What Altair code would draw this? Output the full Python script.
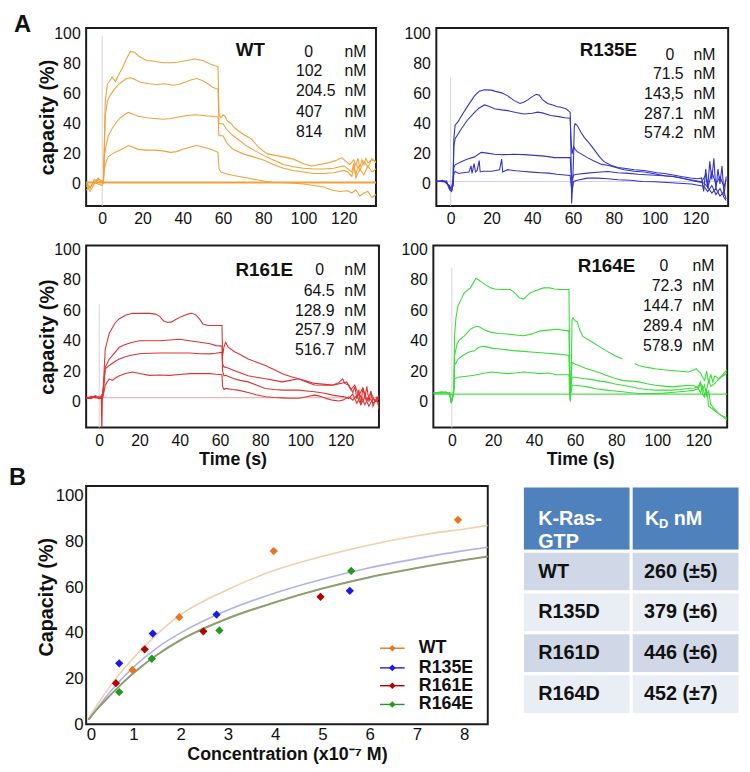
import altair as alt
import pandas as pd

FONT = "Liberation Sans"

# ---------------- Panel A: sensorgrams (time s, capacity %) ----------------
WT_LABELS = ["0", "102", "204.5", "407", "814"]
WT_814 = [(-8,-1),(-6,-5),(-4,0),(-2,3),(0,2),(0.6,0),(1,25),(1.5,55),(2.5,66),(4,69),(5,71),(6.5,68),(8,72),(10,77),(12,83),(14,88),(16,87.5),(18,85),(22,82),(26,81.5),(30,80.5),(34,80.5),(38,81),(42,82),(46,83),(50,82),(53,80),(56,78.5),(57.5,78),(58,46),(59,44),(60,46),(61,45),(62,42),(64,40),(66,37),(70,33),(74,30),(78,24),(82,20),(86,19),(90,18),(95,16.5),(100,13.5),(104,12),(108,13),(112,14),(116,15.5),(119,17.5),(121,15),(123,13),(125,16),(126,12),(127,17),(128,11),(129,16),(130,13),(131,17),(132,14),(134,16),(136,15)]
WT_407 = [(-8,0),(-6,-3),(-4,3),(-2,2),(0,1),(0.6,2),(1,20),(1.5,45),(2.5,55),(4,59),(6,63),(8,66),(10,68),(12,70),(14,70.5),(16,69.5),(19,67.5),(23,66.5),(27,66),(31,66.5),(35,65.5),(38,66),(41,67.5),(44,69),(47,70),(50,68.5),(53,66),(55,64),(57.5,63),(58,40),(60,40),(62,36),(65,32),(68,29),(72,25),(76,22),(80,19),(85,16),(90,13),(95,11.5),(100,10.5),(105,10),(110,10),(115,10.5),(118,11.5),(120,12),(122,10),(124,8),(125,14),(126,6),(127,12),(128,9),(130,15),(132,11),(134,17),(136,14)]
WT_204 = [(-8,1),(-6,-2),(-4,1),(-2,4),(0,1),(0.6,3),(1,18),(2,26),(3,32),(5,37),(7,41),(9,44),(11,46),(13,47.5),(15,46.5),(18,45),(22,44),(26,43.5),(30,43),(34,43.5),(38,44.5),(42,45.5),(46,46),(50,45.5),(54,45),(57.5,44.5),(58,32),(60,32),(62,27),(65,23),(70,20),(75,18),(80,16),(85,13),(90,10.5),(95,9),(100,8),(105,7),(110,7),(115,7.5),(120,9),(122,8),(124,5),(125,12),(126,4),(128,10),(130,6),(132,12),(134,8),(136,10)]
WT_102 = [(-8,-4),(-6,-2),(-4,1),(-2,0),(0,-1),(0.6,2),(1,10),(2,15),(3,18),(5,20),(8,22),(11,24),(13,25.5),(15,24.5),(18,23),(22,22.5),(26,22.5),(30,22),(34,21),(37,21.5),(40,23),(44,24.5),(47,25.5),(50,24.5),(54,23),(57.5,21),(58,10),(59,8),(61,7),(64,6),(68,5),(72,4),(76,3),(80,2),(85,1),(90,1),(95,0.5),(100,0),(105,-1),(110,-2),(114,-4),(118,-5),(122,-4.5),(124,-6),(126,-4),(128,-8),(130,-6),(132,-5),(134,-9),(136,-7)]
WT_0 = 1.0

R135_LABELS = ["0", "71.5", "143,5", "287.1", "574.2"]
R135_574 = [(-7,1.5),(-4,2.5),(-2,1),(-0.5,-3),(0.5,-2),(1.2,3),(1.6,30),(2.2,39),(3.5,41),(5.2,45),(8,51),(11.7,58.5),(14,61.5),(16.6,62.5),(20,62.3),(22,61.5),(25,60.5),(28,58.5),(31,55.5),(34,53.5),(36,54.5),(38,56),(40,58),(42,59.5),(43.5,59),(45,56),(47.5,53.5),(50,52.5),(52,51.5),(54,51),(56.5,50),(58.6,47.5),(59,20),(59.3,-13),(59.8,0),(60.3,20),(60.6,38),(61,40),(62,39),(64,34),(65.5,31),(68,27),(70,23.5),(73,18),(75,15),(78.5,12.5),(82,11),(85,10.5),(90,9.5),(95,9),(101,7.5),(105,7),(109,6),(113,5),(117.6,4),(121,3.5),(123,4),(124,-5),(125,10),(126,-2),(127,15),(128,3),(129,17),(130,-4),(131,10),(132,0),(133,12),(134,-8),(135,5)]
R135_287 = [(-7,2),(-4,1.5),(-2,2),(-0.5,-4),(0.5,-5),(1.2,0),(1.6,25),(2.2,30),(5.2,36.5),(8,42),(11.7,47.5),(14,50.5),(16.6,52.5),(19,51.5),(21.5,50),(25,49.2),(28,48.7),(32,47.5),(36,46.5),(40,47),(42.7,47.7),(45,47.2),(49,45.5),(53,44.7),(56,44),(58.6,43.7),(59,30),(59.5,20),(60.3,24.7),(61,23),(62,21.5),(64,20),(67,17.5),(70,15.5),(74,13),(77,12.5),(81,11),(85,9.5),(90,8.5),(95,8),(101,6.5),(105,5.5),(109,5),(113,4),(117.6,2.8),(121,2),(123,1.5),(125,6),(126,-3),(128,8),(130,0),(132,5),(134,-2),(135,3)]
R135_143 = [(-7,1.5),(-3,2),(-0.5,-2),(0.5,-4),(1.2,0),(1.6,11),(2.2,12.7),(5.2,14.8),(8,16.5),(11.7,18),(15,21),(18,20.5),(21.5,19.7),(26,19.5),(31,19.7),(36,19.5),(41,19),(46,18.5),(51,17.5),(55,17.5),(58.6,17.5),(59,8),(59.5,3),(60.3,6),(62,6.5),(67,7.2),(72,7.8),(77,8.3),(82,7.5),(86,7.2),(92,6.5),(98,6),(104,5.5),(109,5),(113,4),(117.6,2.5),(121,1.5),(124,0.7),(126,-2),(128,-6),(130,-3),(132,-8),(134,-5),(135,-10)]
R135_71 = [(-7,2),(-3,1.5),(-0.5,-1),(0.5,-4.5),(1.2,-1),(1.6,7),(2.2,8.3),(4,7),(6,7.5),(9,8),(10,12),(10.5,7),(11.5,13.5),(12.2,8),(13,9),(14,15.5),(14.5,8),(16,8.5),(20,8.5),(24,9.4),(25,16.5),(25.5,8),(28,9.5),(32,8.8),(36,8.3),(40,7.9),(44,7.5),(48,7.2),(52,6.5),(56,6),(58.6,5.7),(59,0),(59.5,-5),(60.3,1.7),(62,2.5),(67,3.9),(72,3.9),(77,3.5),(82,2.8),(88,2.5),(94,1.7),(100,1.5),(106,1),(112,0.5),(118,0),(122,-1),(124,-1.5),(126,-5),(128,-1),(130,-7),(132,-3),(134,-9),(135,-11)]
R135_0 = 1.7

R161_LABELS = ["0", "64.5", "128.9", "257.9", "516.7"]
R161_516 = [(-6.5,2),(-4,3),(-2,3.5),(0,2),(1,4),(1.3,-20),(1.6,5),(2,10),(3,34.6),(5,45),(8,52),(10,54.5),(13,56.7),(16.5,58),(20,58),(25,58),(28,57.5),(30,56),(32,53),(34,52),(36,52.4),(38,54),(41,56),(44,57.5),(46,58),(48,57),(50,54),(51.5,51),(54,50),(58,50),(61,50),(61.3,30),(62,36),(62.8,39),(64,36),(67,33),(70,31),(74,28),(78,26),(82.6,23.8),(87,21),(91,18.4),(95,16.5),(99,15),(103,13.5),(107,12),(111,11.5),(116,11),(119,12.5),(121,15),(122,12),(124,11),(126,6),(127,10),(128,2),(129,8),(130,-2),(131,9),(132,3),(133,10),(134,0),(135,7),(136,-3),(138,3),(139,-5)]
R161_257 = [(-6.5,2.5),(-4,2),(-2,4),(0,3),(1,2),(1.6,4),(2,8),(3,22.7),(5,28),(7,31),(10,35.7),(13,37.5),(16.5,39),(20,40),(25,40),(30,40),(35,40.5),(40,41),(45,40),(50,39),(55,38),(58,36.8),(61,36.5),(61.3,25),(62,22.7),(62.8,22.7),(66,21),(69,19.5),(74,17),(78,16),(82.6,15),(87,14),(91,13),(95,14),(99,15),(103,13),(107,11),(112,10.8),(116,10.8),(120,12),(123,13),(125,8),(127,11),(129,4),(131,9),(133,1),(135,6),(137,0),(139,4)]
R161_128 = [(-6.5,3),(-4,2.5),(-2,3),(0,2),(1,3),(1.6,3),(2,6),(3,21.6),(5,23.8),(8,26.5),(10,28),(13,29.5),(16.5,30.7),(20,31.5),(25,31.8),(30,32),(35,32),(40,32),(45,32),(50,31.5),(55,31.4),(58,31.8),(61,32.5),(61.3,20),(62,17),(62.8,17.3),(67,15),(70,14),(74,13),(78,11),(82.6,8.7),(87,8),(91,7.6),(95,7.6),(99,7.6),(103,7),(107,6.5),(112,5.5),(116,4.3),(120,3.5),(122,3.2),(124,2),(126,5),(128,-1),(130,4),(132,-2),(134,3),(136,-1),(139,2)]
R161_64 = [(-6.5,2),(-4,3.5),(-2,2.5),(0,3),(1,2),(1.6,2),(2,4),(3,10.8),(4,13),(5,15),(6.5,14),(8,15.5),(10,17),(13,18.5),(16.5,19.5),(20,18.5),(25,17.3),(30,17.5),(35,17.3),(40,17.8),(45,18.4),(50,18.4),(55,18.4),(58,18),(61,17.7),(61.3,10),(62,8),(62.8,8.7),(66,8),(69,7.6),(74,6),(78,4.5),(82.6,3.2),(87,2.7),(91,2.5),(95,2.2),(99,2.2),(103,3.2),(107,4.3),(110,3.5),(113,2),(116,1),(119,0.5),(121,1),(124,3.2),(126,1),(128,4),(130,-2),(132,3),(134,-3),(136,2),(139,-1)]
R161_0 = 2.6

R164_LABELS = ["0", "72.3", "144.7", "289.4", "578.9"]
R164_578A = [(-9,5.5),(-6,6),(-3,6.5),(-1,5),(-0.3,-1),(0.5,3),(1,8),(1.3,43),(2,55),(3,62.8),(4.5,67),(6,71.4),(7.5,73),(9,74.7),(10.5,78),(11.7,81),(13,80),(14,79),(16,77),(19,74.7),(21,74),(23.7,73.6),(26,73.6),(28.5,73.6),(31,71),(33,68),(35,67.5),(37,70),(38,71.4),(41,73),(44.5,74.7),(47.7,74.7),(50,74),(52.5,73.6),(57,73.6),(57.3,30),(57.6,5),(58,10),(58.5,54),(59,55),(60,53),(61,52.5),(62,48),(63.7,43),(66,41),(68.5,39),(72,36),(75,33.5),(79,30.5),(83,28)]
R164_578B = [(89,25),(91,23.8),(95,22.5),(99,21.6),(103,21),(107,20.5),(111,20),(115,19.5),(118,21),(119,21.6),(120,20),(121,19),(122,16),(123,14),(124,20),(125,12),(126,18),(127,13),(128,17),(130,15),(132,18),(134,21)]
R164_289 = [(-9,6),(-6,5.5),(-3,6),(-1,5.5),(-0.3,0),(0.5,4),(1,9),(1.3,30),(2.5,38),(4,41),(6,43),(9,47.6),(11,49),(12.5,49.5),(14,48.7),(16,47),(19,45.5),(23,44.8),(27,44.4),(31,43.8),(35,43.3),(39,44.5),(43,46.5),(47,47),(51,47.6),(54,47),(57,46.5),(57.3,20),(57.6,0),(58,15),(58.5,26),(60,24.5),(62,23.8),(65,22),(68.5,20.5),(72,19),(75,17.3),(79,15.5),(83,14),(87,13.5),(91,13),(95,11.8),(99,10.8),(103,10.2),(107,9.7),(111,10.2),(115,10.8),(118,10.5),(120,9),(121,12),(122,5),(123,3),(124,8),(125,-3),(127,-5),(129,-7),(131,-9),(133,-10),(134,-11)]
R164_144 = [(-9,5.5),(-5,6.5),(-1,5),(-0.3,-1),(0.5,3),(1,8),(1.3,23.8),(3,28),(5,30),(8,32.5),(11,33.5),(13,35.5),(15,36.4),(17,36),(20,35),(23,34.6),(27,34),(30,33.5),(35,33),(40,32.5),(45,32),(50,31.4),(54,31),(57,30.3),(57.3,15),(57.6,2),(58,10),(58.5,16),(60,16),(64,15.2),(68,14.5),(72,13.5),(75,13),(79,11.8),(83,10.8),(87,9.8),(91,8.7),(95,8),(99,7.6),(103,7.6),(107,7.6),(111,8),(115,8.7),(118,9),(120,10),(121,13),(122,8),(123,11),(124,4),(125,7),(126,-2),(128,-5),(130,-8),(132,-10),(134,-12)]
R164_72 = [(-9,6),(-5,5.5),(-1,6),(-0.3,0),(0.5,4),(1,10),(1.3,15),(3,16),(6,16.5),(11,17.3),(15,18.5),(19,19.5),(23,19),(27,18.4),(31,18.8),(35,19.5),(39,19),(43,18.4),(47,18.8),(51,17.7),(54,17.7),(57,17.7),(57.3,8),(57.6,1),(58,6),(58.5,10.8),(60,10.8),(63,10.3),(66,9.7),(70,8.5),(75,7.6),(79,7),(83,6.5),(87,5.9),(91,5.4),(95,5.4),(99,5.4),(103,5.6),(107,6),(111,6.5),(115,7),(118,7.6),(120,8.5),(121,6),(122,10),(123,4),(124,8),(125,14),(126,10),(128,12),(130,15),(132,17),(134,19)]
R164_0 = 5.0

# ---------------- Panel B: binding points and fitted curves ----------------
MUTANTS = ["WT", "R135E", "R161E", "R164E"]
POINT_COLORS = ["#E8741C", "#1A1AE8", "#B50000", "#1E9B1E"]
CONC_WT = [0.98, 1.97, 3.97, 7.87]
CAP_WT = [23.8, 46.9, 75.8, 89.5]
CONC_R135E = [0.70, 1.41, 2.76, 5.58]
CAP_R135E = [26.7, 39.7, 48.0, 58.4]
CONC_R161E = [0.63, 1.24, 2.48, 4.96]
CAP_R161E = [18.0, 32.8, 40.7, 55.8]
CONC_R164E = [0.70, 1.39, 2.82, 5.61]
CAP_R164E = [14.1, 28.7, 41.1, 67.1]

FIT_X = [0.05, 0.25, 0.5, 1, 1.5, 2, 3, 4, 5, 6, 7, 8, 8.5]
FIT_WT = [2.5, 9, 16.5, 29, 39.5, 48, 59, 67.5, 73.5, 78.5, 82.5, 85.5, 87]
FIT_R135E = [2, 7.5, 14, 25, 33.5, 40, 50, 57.5, 63.5, 68.5, 72.5, 76, 77.5]
FIT_R161E = [2, 7, 12.5, 22.5, 30.5, 37, 46.5, 53.5, 59.5, 64.5, 68.5, 72, 73.5]
FIT_R164E = [2, 7, 12.5, 22.3, 30.3, 36.8, 46.2, 53.3, 59.3, 64.3, 68.3, 71.8, 73.3]
FIT_COLORS = ["#F2C9A2", "#A9A9EC", "#B08070", "#7FA46A"]

# legend entries of panel B (in concentration / capacity units of that panel)
LEG_LINE_X = [6.22, 6.74]
LEG_TEXT_X = 7.04
LEG_ROW_Y = [33.3, 24.7, 16.9, 8.7]

# ---------------- Table ----------------
TABLE_NAMES = ["WT", "R135D", "R161D", "R164D"]
TABLE_KD = ["260 (±5)", "379 (±6)", "446 (±6)", "452 (±7)"]

LETTER_DX = -73   # panel letters, relative to the first panel's plot origin
LETTER_DY = -3


def letter_mark(s, x, y, opacity=1.0):
    return alt.Chart(pd.DataFrame({"s": [s]})).mark_text(
        font=FONT, fontSize=24, fontWeight="bold", color="#111", align="left",
        baseline="middle", opacity=opacity
    ).encode(x=alt.value(x), y=alt.value(y), text="s:N")


def panel(curves, color, base_y, base_w, base_op, xdom, ydom, w, h, name, name_xy,
          labels, num_x, num_align, zero_x, nm_x, rows_y, vline_top,
          ytitle, xtitle, ytitle_x, extra=None):
    rows = []
    for series, pts in curves:
        for i, (t, v) in enumerate(pts):
            rows.append({"series": series, "i": i, "t": t, "v": v})
    df = pd.DataFrame(rows)
    xs = alt.Scale(domain=xdom, nice=False, zero=False)
    ys = alt.Scale(domain=ydom, nice=False, zero=False)
    xax = alt.Axis(values=[0, 20, 40, 60, 80, 100, 120], grid=False, ticks=False, tickSize=0,
                   domain=False, labelFontSize=16, labelPadding=5, labelColor="#111",
                   labelOverlap=False,
                   title=xtitle, titleFontSize=18, titleFontWeight="bold", titlePadding=2,
                   titleColor="#111")
    yax = alt.Axis(values=[0, 20, 40, 60, 80, 100], grid=False, ticks=False, tickSize=0,
                   domain=False, labelFontSize=16, labelPadding=6, labelColor="#111",
                   labelOverlap=False,
                   title=ytitle, titleFontSize=20, titleFontWeight="bold", titleX=ytitle_x,
                   titleColor="#111")
    X = alt.X("t:Q", scale=xs, axis=xax)
    Y = alt.Y("v:Q", scale=ys, axis=yax)

    vline = alt.Chart(pd.DataFrame({"t": [0], "v": [ydom[0]], "v2": [vline_top]})).mark_rule(
        color="#d4d4d4", strokeWidth=1).encode(x=X, y=Y, y2="v2:Q")
    base = alt.Chart(pd.DataFrame({"v": [base_y]})).mark_rule(
        color=color, strokeWidth=base_w, opacity=base_op).encode(y=Y)
    lines = alt.Chart(df).mark_line(color=color, strokeWidth=1.1, clip=True).encode(
        x=X, y=Y, detail="series:N", order="i:Q")

    ann_name = alt.Chart(pd.DataFrame({"t": [name_xy[0]], "v": [name_xy[1]], "s": [name]})).mark_text(
        font=FONT, fontSize=19, fontWeight="bold", color="#111", align="center", baseline="middle"
    ).encode(x=X, y=Y, text="s:N")
    ann_zero = alt.Chart(pd.DataFrame({"t": [zero_x], "v": [rows_y[0]], "s": [labels[0]]})).mark_text(
        font=FONT, fontSize=16, color="#111", align="center", baseline="middle"
    ).encode(x=X, y=Y, text="s:N")
    ann_num = alt.Chart(pd.DataFrame({"t": [num_x] * 4, "v": rows_y[1:], "s": labels[1:]})).mark_text(
        font=FONT, fontSize=16, color="#111", align=num_align, baseline="middle"
    ).encode(x=X, y=Y, text="s:N")
    ann_nm = alt.Chart(pd.DataFrame({"t": [nm_x] * 5, "v": rows_y, "s": ["nM"] * 5})).mark_text(
        font=FONT, fontSize=16, color="#111", align="left", baseline="middle"
    ).encode(x=X, y=Y, text="s:N")
    layers = [vline, base, lines, ann_name, ann_zero, ann_num, ann_nm]
    if extra is not None:
        layers.append(extra)
    return alt.layer(*layers).properties(width=w, height=h)


TOP_Y = [-14.6, 103.6]
BOT_Y = [-17.0, 102.5]

wt = panel([("0.814", WT_814), ("0.407", WT_407), ("0.204", WT_204), ("0.102", WT_102)],
           "#EFA23A", WT_0, 2.2, 1.0, [-8, 136], TOP_Y, 293, 180, "WT", (73.6, 89.2),
           WT_LABELS, 96.2, "left", 102.6, 120.3, [87.9, 74.8, 61.7, 47.9, 34.8], 98,
           "capacity (%)", None, -29, extra=letter_mark("A", LETTER_DX, LETTER_DY))
r135 = panel([("a", R135_574), ("b", R135_287), ("c", R135_143), ("d", R135_71)],
             "#3434C8", R135_0, 1.0, 0.25, [-7, 136], TOP_Y, 295, 180, "R135E", (77.3, 89.2),
             R135_LABELS, 114.2, "right", 107.4, 119.0, [85.9, 72.8, 59.7, 46.6, 33.5], 71,
             None, None, -29, extra=letter_mark("A", 0, LETTER_DY, opacity=0))
r161 = panel([("a", R161_516), ("b", R161_257), ("c", R161_128), ("d", R161_64)],
             "#DC3434", R161_0, 1.0, 0.45, [-6.5, 139], BOT_Y, 296, 184, "R161E", (82.0, 86.3),
             R161_LABELS, 116.9, "right", 109.5, 121.8, [86.3, 72.6, 59.6, 46.7, 33.7], 64,
             "capacity (%)", "Time (s)", -29, extra=letter_mark("A", LETTER_DX, 90, opacity=0))
r164 = panel([("a", R164_578A), ("a2", R164_578B), ("b", R164_289), ("c", R164_144), ("d", R164_72)],
             "#3ADC3A", R164_0, 1.2, 0.9, [-9, 134], BOT_Y, 297, 184, "R164E", (75.3, 88.9),
             R164_LABELS, 112.3, "right", 103.2, 117.1, [88.9, 75.9, 62.9, 49.9, 36.3], 88,
             None, "Time (s)", -29)

# ---------------- Panel B chart ----------------
pts_rows = []
for m, cx, cy in zip(MUTANTS, [CONC_WT, CONC_R135E, CONC_R161E, CONC_R164E],
                     [CAP_WT, CAP_R135E, CAP_R161E, CAP_R164E]):
    for a, b in zip(cx, cy):
        pts_rows.append({"mutant": m, "c": a, "cap": b})
pts_df = pd.DataFrame(pts_rows)

bx = alt.Scale(domain=[0, 8.5], nice=False, zero=False)
by = alt.Scale(domain=[0, 104.3], nice=False, zero=False)
bxax = alt.Axis(values=list(range(0, 9)), grid=False, ticks=False, tickSize=0, domain=False,
                labelFontSize=17, labelPadding=2, labelColor="#111", labelOverlap=False,
                title="Concentration (x10⁻⁷ M)", titleFontSize=18, titleFontWeight="bold",
                titlePadding=4, titleColor="#111")
byax = alt.Axis(values=[0, 20, 40, 60, 80, 100], grid=False, ticks=False, tickSize=0, domain=False,
                labelFontSize=17, labelPadding=3, labelColor="#111", labelOverlap=False,
                title="Capacity (%)", titleFontSize=20, titleFontWeight="bold", titleX=-30,
                titleY=112, titleColor="#111")
BX = alt.X("c:Q", scale=bx, axis=bxax)
BY = alt.Y("cap:Q", scale=by, axis=byax)

fit_layers = []
for m, fy, col in zip(MUTANTS, [FIT_WT, FIT_R135E, FIT_R161E, FIT_R164E], FIT_COLORS):
    fdf = pd.DataFrame({"c": FIT_X, "cap": fy})
    fit_layers.append(alt.Chart(fdf).mark_line(color=col, strokeWidth=1.6, interpolate="monotone",
                                                opacity=0.9).encode(x=BX, y=BY))

cscale = alt.Scale(domain=MUTANTS, range=POINT_COLORS)
points = alt.Chart(pts_df).mark_point(shape="diamond", filled=True, size=70, opacity=1).encode(
    x=BX, y=BY, color=alt.Color("mutant:N", scale=cscale, legend=None))

leg_df = pd.DataFrame({"mutant": MUTANTS, "c": LEG_LINE_X[0], "c2": LEG_LINE_X[1],
                       "cm": (LEG_LINE_X[0] + LEG_LINE_X[1]) / 2, "ct": LEG_TEXT_X,
                       "cap": LEG_ROW_Y})
leg_line = alt.Chart(leg_df).mark_rule(strokeWidth=1.4).encode(
    x=BX, x2="c2:Q", y=BY, color=alt.Color("mutant:N", scale=cscale, legend=None))
leg_pt = alt.Chart(leg_df).mark_point(shape="diamond", filled=True, size=45, opacity=1).encode(
    x=alt.X("cm:Q", scale=bx, axis=bxax), y=BY, color=alt.Color("mutant:N", scale=cscale, legend=None))
leg_txt = alt.Chart(leg_df).mark_text(font=FONT, fontSize=18, fontWeight="bold", color="#111",
                                      align="left", baseline="middle").encode(
    x=alt.X("ct:Q", scale=bx, axis=bxax), y=BY, text="mutant:N")

panel_b = alt.layer(*fit_layers, points, leg_line, leg_pt, leg_txt,
                    letter_mark("B", LETTER_DX - 5, -8)).properties(width=406, height=241)

# ---------------- Table chart ----------------
HEADER = 1.6
cells = [dict(x0=0, x1=1, y0=0, y1=HEADER, fill="#4F81BD"),
         dict(x0=1, x1=2, y0=0, y1=HEADER, fill="#4F81BD")]
for i in range(len(TABLE_NAMES)):
    f = "#D0D8E8" if i % 2 == 0 else "#E9EDF4"
    cells.append(dict(x0=0, x1=1, y0=HEADER + i, y1=HEADER + i + 1, fill=f))
    cells.append(dict(x0=1, x1=2, y0=HEADER + i, y1=HEADER + i + 1, fill=f))
cells_df = pd.DataFrame(cells)
tx = alt.Scale(domain=[0, 2], nice=False, zero=False)
ty = alt.Scale(domain=[0, HEADER + len(TABLE_NAMES)], reverse=True, nice=False, zero=False)
rects = alt.Chart(cells_df).mark_rect(stroke="white", strokeWidth=3).encode(
    x=alt.X("x0:Q", scale=tx, axis=None), x2="x1:Q",
    y=alt.Y("y0:Q", scale=ty, axis=None), y2="y1:Q",
    fill=alt.Fill("fill:N", scale=None))
body_df = pd.DataFrame({"y": [HEADER + i + 0.5 for i in range(len(TABLE_NAMES))],
                        "name": TABLE_NAMES, "kd": TABLE_KD, "c0": 0, "c1": 1})
t_names = alt.Chart(body_df).mark_text(font=FONT, fontSize=20, fontWeight="bold", color="#111",
                                       align="left", baseline="middle", dx=16).encode(
    x="c0:Q", y="y:Q", text="name:N")
t_kd = alt.Chart(body_df).mark_text(font=FONT, fontSize=20, fontWeight="bold", color="#111",
                                    align="left", baseline="middle", dx=13).encode(
    x="c1:Q", y="y:Q", text="kd:N")
hdr = pd.DataFrame({"x": [0], "y": [HEADER / 2], "s": ["K-Ras-\nGTP"]})
t_h1 = alt.Chart(hdr).mark_text(font=FONT, fontSize=20, fontWeight="bold", color="white",
                                align="left", baseline="middle", dx=16, lineBreak="\n",
                                lineHeight=24).encode(x="x:Q", y="y:Q", text="s:N")
hk = pd.DataFrame({"x": [1], "y": [HEADER / 2], "k": ["K"], "d": ["D"], "n": ["nM"]})
t_k = alt.Chart(hk).mark_text(font=FONT, fontSize=20, fontWeight="bold", color="white",
                              align="left", baseline="middle", dx=14).encode(x="x:Q", y="y:Q", text="k:N")
t_d = alt.Chart(hk).mark_text(font=FONT, fontSize=13, fontWeight="bold", color="white",
                              align="left", baseline="middle", dx=28, dy=6).encode(x="x:Q", y="y:Q", text="d:N")
t_n = alt.Chart(hk).mark_text(font=FONT, fontSize=20, fontWeight="bold", color="white",
                              align="left", baseline="middle", dx=43).encode(x="x:Q", y="y:Q", text="n:N")
table = alt.layer(rects, t_names, t_kd, t_h1, t_k, t_d, t_n,
                  letter_mark("B", 0, -8, opacity=0)).properties(
    width=220, height=231, view=alt.ViewBackground(stroke="transparent", strokeWidth=0))

row1 = alt.hconcat(wt, r135, spacing=24)
row2 = alt.hconcat(r161, r164, spacing=19)
top = alt.vconcat(row1, row2, spacing=12)
row3 = alt.hconcat(panel_b, table, spacing=28)
chart = alt.vconcat(top, row3, spacing=-4).properties(
    padding={"left": 0, "top": 0, "right": 0, "bottom": 0}
).configure_view(stroke="#1c1c1c", strokeWidth=2).configure_axis(
    labelFont=FONT, titleFont=FONT, labelOverlap=False)

chart.save("out.html", embed_options={"renderer": "svg", "actions": False})
